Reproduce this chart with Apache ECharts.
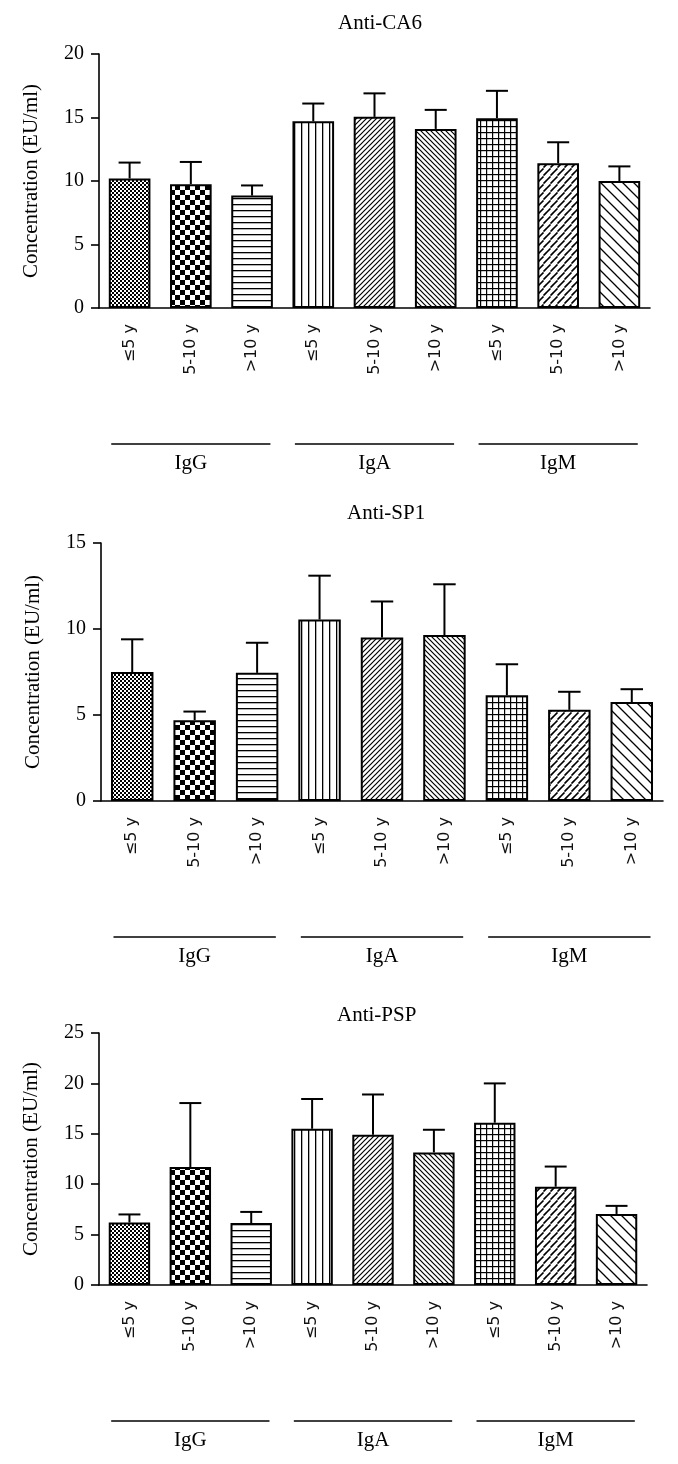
<!DOCTYPE html>
<html><head><meta charset="utf-8">
<script src="https://cdn.jsdelivr.net/npm/echarts@6/dist/echarts.min.js"></script>
<style>html,body{margin:0;padding:0;background:#fff}#c{width:678px;height:1464px}</style>
</head><body><div id="c"></div>
<script>
// ---- data ----
const categories = ['≤5 y', '5-10 y', '>10 y', '≤5 y', '5-10 y', '>10 y', '≤5 y', '5-10 y', '>10 y'];
const groupNames = ['IgG', 'IgA', 'IgM'];
const groupCenterIndex = [1, 4, 7];
const titles = ['Anti-CA6', 'Anti-SP1', 'Anti-PSP'];
const yAxisName = 'Concentration (EU/ml)';
const yMaxes = [20, 15, 25];
const yInterval = 5;

const ca6Mean = [10.2, 9.75, 8.85, 14.7, 15.05, 14.1, 14.95, 11.4, 10.0];
const ca6Err  = [1.25, 1.75, 0.8, 1.4, 1.85, 1.5, 2.15, 1.65, 1.15];
const sp1Mean = [7.5, 4.7, 7.45, 10.55, 9.5, 9.65, 6.15, 5.3, 5.75];
const sp1Err  = [1.9, 0.5, 1.75, 2.55, 2.1, 2.95, 1.8, 1.05, 0.75];
const pspMean = [6.2, 11.7, 6.15, 15.5, 14.9, 13.15, 16.1, 9.75, 7.05];
const pspErr  = [0.8, 6.35, 1.1, 2.95, 4.0, 2.25, 3.9, 2.0, 0.8];

const panelMeans = [ca6Mean, sp1Mean, pspMean];
const panelErrs = [ca6Err, sp1Err, pspErr];

// ---- patterns ----
function tile(w, h, draw) {
  const c = document.createElement('canvas');
  c.width = w; c.height = h;
  const g = c.getContext('2d');
  g.fillStyle = '#fff'; g.fillRect(0, 0, w, h);
  g.fillStyle = '#000'; g.strokeStyle = '#000';
  draw(g, w, h);
  return { image: c, repeat: 'repeat' };
}
function fwd(g, s, lw) {
  g.lineWidth = lw; g.beginPath();
  g.moveTo(0, s); g.lineTo(s, 0);
  g.moveTo(-1, 1); g.lineTo(1, -1);
  g.moveTo(s - 1, s + 1); g.lineTo(s + 1, s - 1);
  g.stroke();
}
function back(g, s, lw) {
  g.lineWidth = lw; g.beginPath();
  g.moveTo(0, 0); g.lineTo(s, s);
  g.moveTo(s - 1, -1); g.lineTo(s + 1, 1);
  g.moveTo(-1, s - 1); g.lineTo(1, s + 1);
  g.stroke();
}
const patterns = [
  tile(4, 4, g => { g.fillRect(0, 0, 2, 2); g.fillRect(2, 2, 2, 2); }),
  tile(10, 10, g => { g.fillRect(0, 0, 5, 5); g.fillRect(5, 5, 5, 5); }),
  tile(6, 6, g => { g.fillRect(0, 0, 6, 1.3); }),
  tile(7, 7, g => { g.fillRect(0, 0, 1.3, 7); }),
  tile(5, 5, g => fwd(g, 5, 1.2)),
  tile(5, 5, g => back(g, 5, 1.2)),
  tile(6, 6, g => { g.fillRect(0, 0, 6, 1.2); g.fillRect(0, 0, 1.2, 6); }),
  tile(7, 8, g => {
    g.lineWidth = 1.7; g.beginPath();
    g.moveTo(1, 4); g.lineTo(4.5, 0.5);
    g.moveTo(4.5, 7.5); g.lineTo(8, 4);
    g.moveTo(-2.5, 7.5); g.lineTo(1, 4);
    g.stroke();
  }),
  tile(11, 11, g => back(g, 11, 1.3))
];

// ---- layout ----
const gridPos = [
  { left: 99, right: 28, top: 54, height: 254 },
  { left: 101, right: 15, top: 543, height: 258 },
  { left: 99, right: 31, top: 1033, height: 252 }
];
const titlePos = [
  { left: 333, top: 8 },
  { left: 342, top: 498 },
  { left: 332, top: 1000 }
];

const serif = 'Liberation Serif';
const option = { animation: false, title: [], grid: [], xAxis: [], yAxis: [], series: [] };

for (let p = 0; p < 3; p++) {
  option.title.push({
    text: titles[p], left: titlePos[p].left, top: titlePos[p].top,
    textStyle: { fontFamily: serif, fontSize: 21, fontWeight: 'normal', color: '#000' }
  });
  option.grid.push(Object.assign({ containLabel: false }, gridPos[p]));
  option.xAxis.push({
    type: 'category', gridIndex: p, data: categories,
    axisLine: { lineStyle: { color: '#000', width: 1.6 } },
    axisTick: { alignWithLabel: true, length: 8, lineStyle: { color: '#000', width: 1.6 } },
    axisLabel: { rotate: 90, interval: 0, margin: 16, fontFamily: 'DejaVu Sans', fontSize: 16, color: '#111' }
  });
  option.yAxis.push({
    type: 'value', gridIndex: p, min: 0, max: yMaxes[p], interval: yInterval,
    name: yAxisName, nameLocation: 'middle', nameGap: 57,
    nameTextStyle: { fontFamily: serif, fontSize: 21, color: '#000' },
    axisLine: { show: true, lineStyle: { color: '#000', width: 1.6 } },
    axisTick: { show: true, length: 8, lineStyle: { color: '#000', width: 1.6 } },
    axisLabel: { margin: 15, fontFamily: serif, fontSize: 20, color: '#000' },
    splitLine: { show: false }
  });
  option.series.push({
    type: 'bar', xAxisIndex: p, yAxisIndex: p, barWidth: '68%',
    data: panelMeans[p].map((v, i) => ({
      value: v,
      itemStyle: { color: patterns[i], borderColor: '#000', borderWidth: 2 }
    })),
    silent: true
  });
  option.series.push({
    type: 'custom', xAxisIndex: p, yAxisIndex: p, silent: true, z: 5,
    data: panelMeans[p].map((v, i) => [i, v, panelErrs[p][i]]),
    encode: { x: 0, y: 1 },
    renderItem: (params, api) => {
      const i = api.value(0), m = api.value(1), e = api.value(2);
      const b = api.coord([i, m]);
      const t = api.coord([i, m + e]);
      const cap = api.size([1, 0])[0] * 0.18;
      const st = { stroke: '#000', lineWidth: 2 };
      return { type: 'group', children: [
        { type: 'line', shape: { x1: b[0], y1: b[1], x2: t[0], y2: t[1] }, style: st },
        { type: 'line', shape: { x1: t[0] - cap, y1: t[1], x2: t[0] + cap, y2: t[1] }, style: st }
      ] };
    }
  });
  option.series.push({
    type: 'custom', xAxisIndex: p, yAxisIndex: p, silent: true, clip: false,
    data: groupCenterIndex.map((c, k) => [c, 0, k]),
    encode: { x: 0, y: 1 },
    renderItem: (params, api) => {
      const c = api.value(0), k = api.value(2);
      const pt = api.coord([c, 0]);
      const bw = api.size([1, 0])[0];
      const ly = pt[1] + 136;
      return { type: 'group', children: [
        { type: 'line', shape: { x1: pt[0] - 1.3 * bw, y1: ly, x2: pt[0] + 1.3 * bw, y2: ly },
          style: { stroke: '#000', lineWidth: 1.6 } },
        { type: 'text', style: { text: groupNames[k], x: pt[0], y: ly + 19, align: 'center',
          verticalAlign: 'middle', fontFamily: serif, fontSize: 21, fill: '#000' } }
      ] };
    }
  });
}

const chart = echarts.init(document.getElementById('c'), null, { renderer: 'canvas' });
chart.setOption(option);
</script>
</body></html>
